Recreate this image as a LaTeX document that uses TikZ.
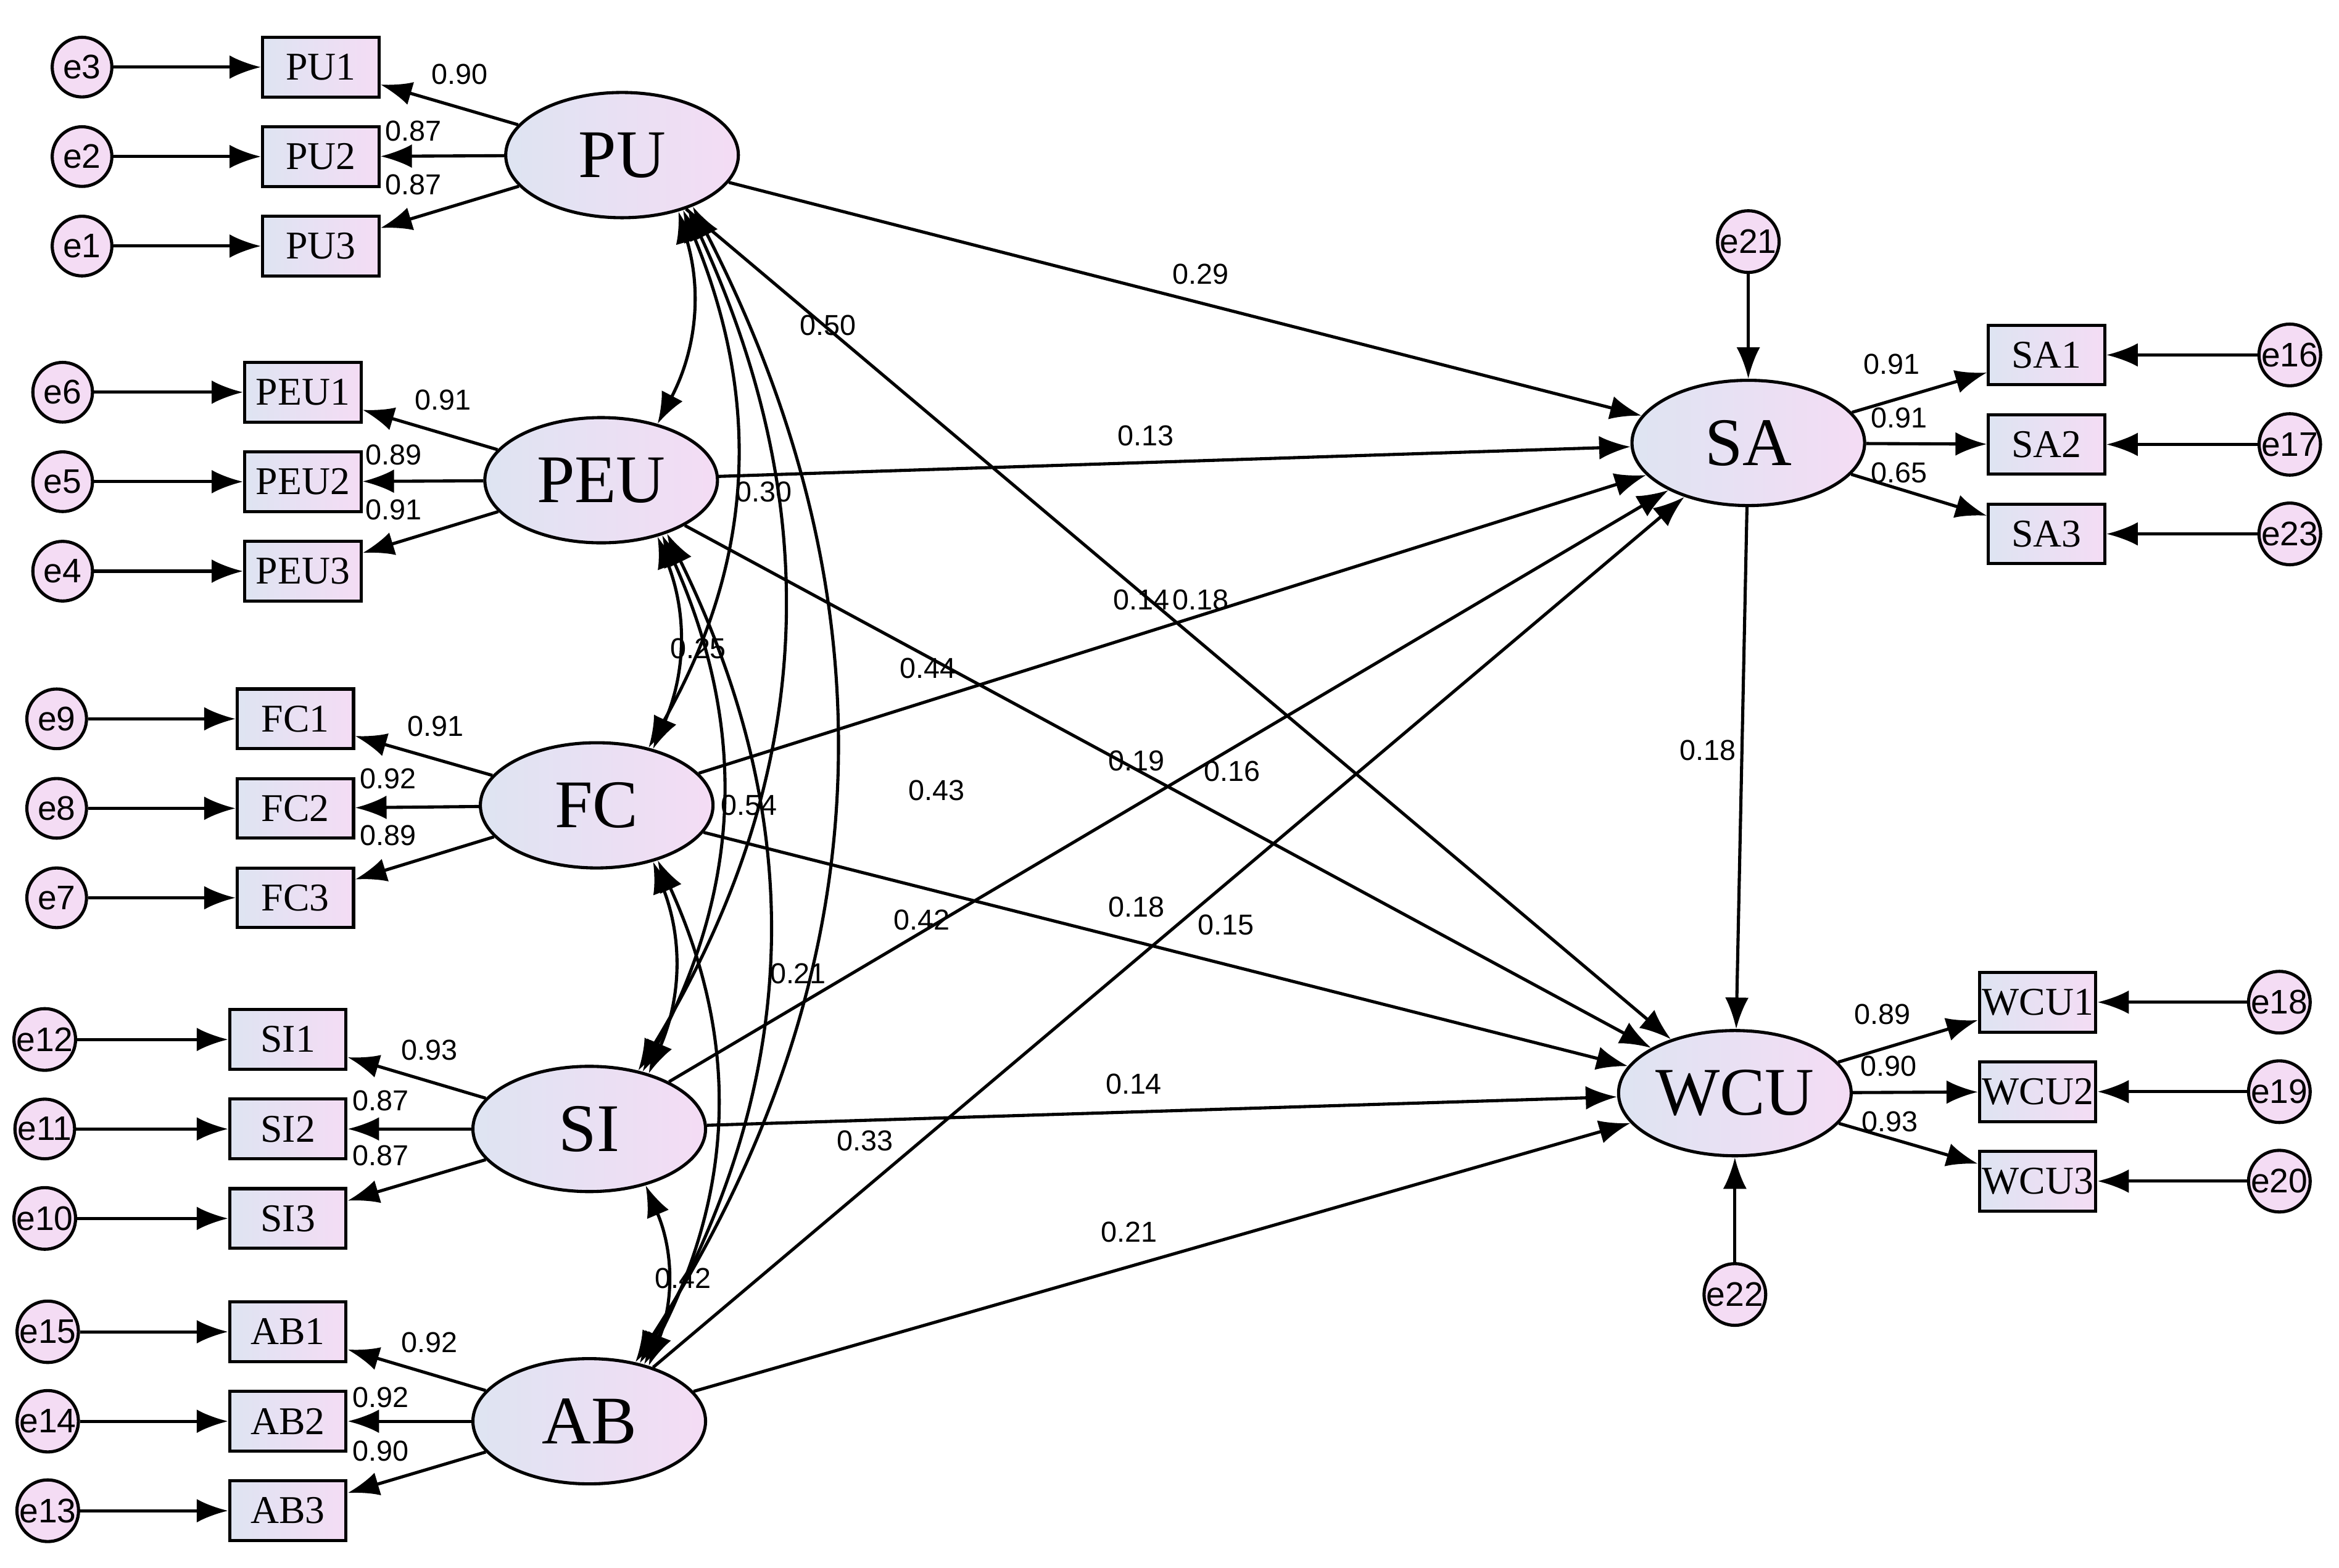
\documentclass[tikz,border=0pt]{standalone}
\usepackage{fontspec}
\setmainfont{Liberation Serif}
\newfontfamily\numfont{Liberation Sans}
\usetikzlibrary{arrows.meta,shapes.geometric}
\definecolor{pinkA}{RGB}{244,220,244}
\definecolor{blueA}{RGB}{222,228,242}
\tikzset{
  lat/.style={ellipse,draw,line width=1.2pt,minimum width=3.12cm,minimum height=1.68cm,left color=blueA,right color=pinkA,font=\fontsize{26}{26}\selectfont,inner sep=0},
  obs/.style={rectangle,draw,line width=1.2pt,minimum width=1.56cm,minimum height=0.8cm,left color=blueA,right color=pinkA,font=\fontsize{15}{15}\selectfont,inner sep=0},
  err/.style={circle,draw,line width=1.2pt,minimum size=0.8cm,fill=pinkA,font=\numfont\fontsize{13}{13}\selectfont,inner sep=0},
  arr/.style={line width=1.2pt,-{Latex[length=12pt,width=9pt]}},
  cov/.style={line width=1.2pt,{Latex[length=12pt,width=9pt]}-{Latex[length=12pt,width=9pt]}},
  num/.style={font=\numfont\fontsize{11}{11}\selectfont,inner sep=1pt}
}
\begin{document}
\begin{tikzpicture}[x=0.02cm,y=-0.02cm]
\useasboundingbox (0,0) rectangle (1568,1051);

% latent factors
\node[lat] (PU)  at (417,104) {PU};
\node[lat] (PEU) at (403,322) {PEU};
\node[lat] (FC)  at (400,540) {FC};
\node[lat] (SI)  at (395,757) {SI};
\node[lat] (AB)  at (395,953) {AB};
\node[lat] (SA)  at (1172,297) {SA};
\node[lat] (WCU) at (1163,733) {WCU};

% left indicators
\foreach \f/\x/\y/\ex/\ea/\eb/\ec in {PU/215/45/55/3/2/1, PEU/203/263/42/6/5/4, FC/198/482/38/9/8/7, SI/193/697/30/12/11/10, AB/193/893/32/15/14/13}{
  \foreach \i/\e in {1/\ea,2/\eb,3/\ec}{
    \node[obs] (\f\i) at (\x,\y+60*\i-60) {\f\i};
    \node[err] (e\e) at (\ex,\y+60*\i-60) {e\e};
    \draw[arr] (e\e) -- (\f\i);
    \draw[arr] (\f) -- (\f\i);
  }
}

% right indicators
\foreach \f/\x/\y/\ex/\ea/\eb/\ec in {SA/1372/238/1535/16/17/23, WCU/1366/672/1528/18/19/20}{
  \foreach \i/\e in {1/\ea,2/\eb,3/\ec}{
    \node[obs] (\f\i) at (\x,\y+60*\i-60) {\f\i};
    \node[err] (e\e) at (\ex,\y+60*\i-60) {e\e};
    \draw[arr] (e\e) -- (\f\i);
    \draw[arr] (\f) -- (\f\i);
  }
}
\node[err] (e21) at (1172,162) {e21};
\node[err] (e22) at (1163,868) {e22};
\draw[arr] (e21) -- (SA);
\draw[arr] (e22) -- (WCU);

% structural paths
\foreach \a in {PU,PEU,FC,SI,AB}{
  \draw[arr] (\a) -- (SA);
  \draw[arr] (\a) -- (WCU);
}
\draw[arr] (SA) -- (WCU);

% covariances
\draw[cov] (PU.-45) to[bend left=22] (PEU.45);
\draw[cov] (PU.-42) to[bend left=26] (FC.48);
\draw[cov] (PU.-39) to[bend left=28] (SI.50);
\draw[cov] (PU.-36) to[bend left=30] (AB.52);
\draw[cov] (PEU.-45) to[bend left=22] (FC.45);
\draw[cov] (PEU.-42) to[bend left=26] (SI.47);
\draw[cov] (PEU.-39) to[bend left=28] (AB.49);
\draw[cov] (FC.-45) to[bend left=22] (SI.43);
\draw[cov] (FC.-42) to[bend left=26] (AB.46);
\draw[cov] (SI.-45) to[bend left=22] (AB.43);

% loadings
\foreach \t/\x/\y in {0.90/308/50, 0.87/277/88, 0.87/277/124, 0.91/297/268, 0.89/264/305, 0.91/264/342,
  0.91/292/487, 0.92/260/522, 0.89/260/560, 0.93/288/704, 0.87/255/738, 0.87/255/775,
  0.92/288/900, 0.92/255/937, 0.90/255/973, 0.91/1268/244, 0.91/1273/280, 0.65/1273/317,
  0.89/1262/680, 0.90/1266/715, 0.93/1267/752}
  \node[num] (l\x\y) at (\x,\y) {\t};

% path and covariance values
\foreach \t/\x/\y in {0.29/805/184, 0.13/768/292, 0.14/765/402, 0.18/805/402, 0.19/762/510, 0.16/826/517,
  0.18/762/608, 0.15/822/620, 0.14/760/727, 0.21/757/826, 0.18/1145/503,
  0.50/555/218, 0.30/512/330, 0.25/468/435, 0.44/622/448, 0.43/628/530, 0.54/502/540,
  0.42/618/617, 0.21/535/653, 0.33/580/765, 0.42/458/857}
  \node[num] (p\x\y) at (\x,\y) {\t};
\end{tikzpicture}
\end{document}
